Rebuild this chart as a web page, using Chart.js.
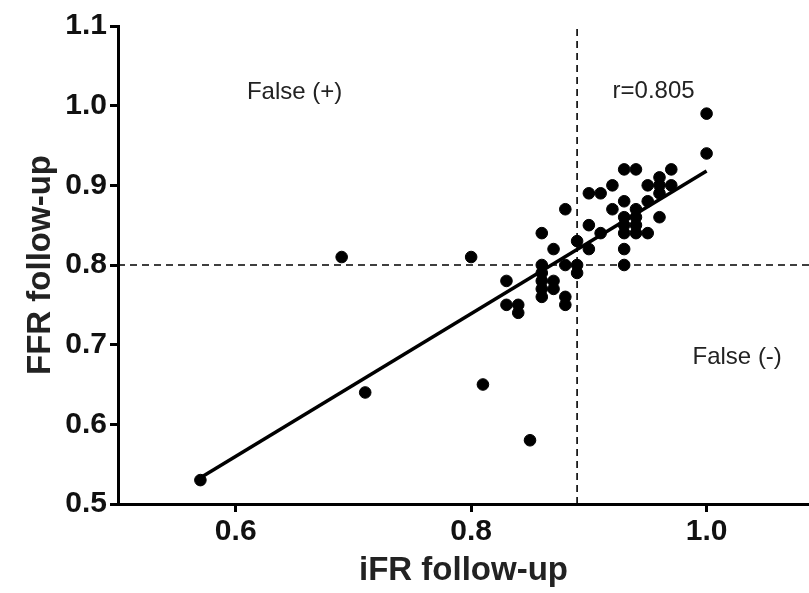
<!DOCTYPE html>
<html lang="en">
<head>
    <meta charset="UTF-8">
    <title>iFR vs FFR follow-up</title>
    <script src="https://cdn.jsdelivr.net/npm/chart.js"></script>
    <style>
        html, body { margin:0; padding:0; background:#fff; overflow:hidden; }
    </style>
</head>
<body>
    <canvas id="myChart" width="809" height="593"></canvas>

    <script>
        // iFR / FFR pairs at follow-up
        const ifr = [
            0.57, 0.69, 0.71, 0.80, 0.81, 0.85,
            0.83, 0.83, 0.84, 0.84,
            0.86, 0.86, 0.86, 0.86, 0.86, 0.86,
            0.87, 0.87, 0.87,
            0.88, 0.88, 0.88, 0.88,
            0.89, 0.89, 0.89,
            0.90, 0.90, 0.90,
            0.91, 0.91,
            0.92, 0.92,
            0.93, 0.93, 0.93, 0.93, 0.93, 0.93, 0.93,
            0.94, 0.94, 0.94, 0.94, 0.94,
            0.95, 0.95, 0.95,
            0.96, 0.96, 0.96, 0.96,
            0.97, 0.97,
            1.00, 1.00
        ];
        const ffr = [
            0.53, 0.81, 0.64, 0.81, 0.65, 0.58,
            0.78, 0.75, 0.75, 0.74,
            0.84, 0.80, 0.79, 0.78, 0.77, 0.76,
            0.82, 0.78, 0.77,
            0.87, 0.80, 0.76, 0.75,
            0.83, 0.80, 0.79,
            0.89, 0.85, 0.82,
            0.89, 0.84,
            0.90, 0.87,
            0.92, 0.88, 0.86, 0.85, 0.84, 0.82, 0.80,
            0.92, 0.87, 0.86, 0.85, 0.84,
            0.90, 0.88, 0.84,
            0.91, 0.90, 0.89, 0.86,
            0.92, 0.90,
            0.99, 0.94
        ];

        // regression line end points
        const fitX = [0.57, 1.00];
        const fitY = [0.533, 0.918];

        // cut-offs
        const ifrCut = 0.89;
        const ffrCut = 0.80;

        const xTicks = [0.6, 0.8, 1.0];
        const yTicks = [0.5, 0.6, 0.7, 0.8, 0.9, 1.0, 1.1];

        const notes = [
            { text: 'False (+)', x: 0.65, y: 1.017 },
            { text: 'r=0.805', x: 0.955, y: 1.018 },
            { text: 'False (-)', x: 1.026, y: 0.684 }
        ];

        const points = ifr.map((v, i) => ({ x: v, y: ffr[i] }));
        const fit = fitX.map((v, i) => ({ x: v, y: fitY[i] }));

        const xMin = 0.5, xMax = 1.087;
        const yMin = 0.5, yMax = 1.1;
        const FONT = '"Liberation Sans", Arial, sans-serif';

        // quadrant captions and r value
        const noteLabels = {
            id: 'noteLabels',
            afterDatasetsDraw(chart) {
                const c = chart.ctx;
                const sx = chart.scales.x, sy = chart.scales.y;
                c.save();
                c.fillStyle = '#222';
                c.font = '24px ' + FONT;
                c.textAlign = 'center';
                c.textBaseline = 'middle';
                notes.forEach(n => c.fillText(n.text, sx.getPixelForValue(n.x), sy.getPixelForValue(n.y)));
                c.restore();
            }
        };

        const ctx = document.querySelector('#myChart').getContext('2d');
        const myChart = new Chart(ctx, {
            type: 'scatter',
            data: {
                datasets: [
                    {
                        type: 'line',
                        data: [{ x: ifrCut, y: yMin }, { x: ifrCut, y: yMax }],
                        borderColor: '#000',
                        borderWidth: 1.6,
                        borderDash: [7, 5],
                        pointRadius: 0,
                        fill: false
                    },
                    {
                        type: 'line',
                        data: [{ x: xMin, y: ffrCut }, { x: xMax, y: ffrCut }],
                        borderColor: '#000',
                        borderWidth: 1.6,
                        borderDash: [7, 5],
                        pointRadius: 0,
                        fill: false
                    },
                    {
                        type: 'line',
                        data: fit,
                        borderColor: '#000',
                        borderWidth: 3.5,
                        pointRadius: 0,
                        fill: false
                    },
                    {
                        data: points,
                        backgroundColor: '#000',
                        borderColor: '#000',
                        pointRadius: 5.8,
                        pointHoverRadius: 5.8
                    }
                ]
            },
            options: {
                responsive: false,
                animation: false,
                layout: { autoPadding: false, padding: { top: 26, right: 0, bottom: 0, left: 0 } },
                plugins: {
                    legend: { display: false },
                    tooltip: { enabled: false }
                },
                scales: {
                    x: {
                        type: 'linear',
                        min: xMin,
                        max: xMax,
                        afterBuildTicks: axis => { axis.ticks = xTicks.map(v => ({ value: v })); },
                        afterFit: axis => { axis.height = 89; },
                        border: { display: true, color: '#000', width: 3 },
                        grid: { drawOnChartArea: false, drawTicks: true, tickLength: 8, tickWidth: 3, tickColor: '#000' },
                        ticks: {
                            color: '#111',
                            padding: 2,
                            maxRotation: 0,
                            font: { family: FONT, size: 30, weight: 'bold' },
                            callback: v => v.toFixed(1)
                        },
                        title: {
                            display: true,
                            text: 'iFR follow-up',
                            color: '#222',
                            padding: { top: 0, bottom: 2 },
                            font: { family: FONT, size: 33, weight: 'bold' }
                        }
                    },
                    y: {
                        type: 'linear',
                        min: yMin,
                        max: yMax,
                        afterBuildTicks: axis => { axis.ticks = yTicks.map(v => ({ value: v })); },
                        afterFit: axis => { axis.width = 118; },
                        border: { display: true, color: '#000', width: 3 },
                        grid: { drawOnChartArea: false, drawTicks: true, tickLength: 8, tickWidth: 3, tickColor: '#000' },
                        ticks: {
                            color: '#111',
                            padding: 3,
                            font: { family: FONT, size: 30, weight: 'bold' },
                            callback: v => v.toFixed(1)
                        },
                        title: {
                            display: true,
                            text: 'FFR follow-up',
                            color: '#222',
                            padding: { top: 21, bottom: 0 },
                            font: { family: FONT, size: 33, weight: 'bold' }
                        }
                    }
                }
            },
            plugins: [noteLabels]
        });
    </script>
</body>
</html>
